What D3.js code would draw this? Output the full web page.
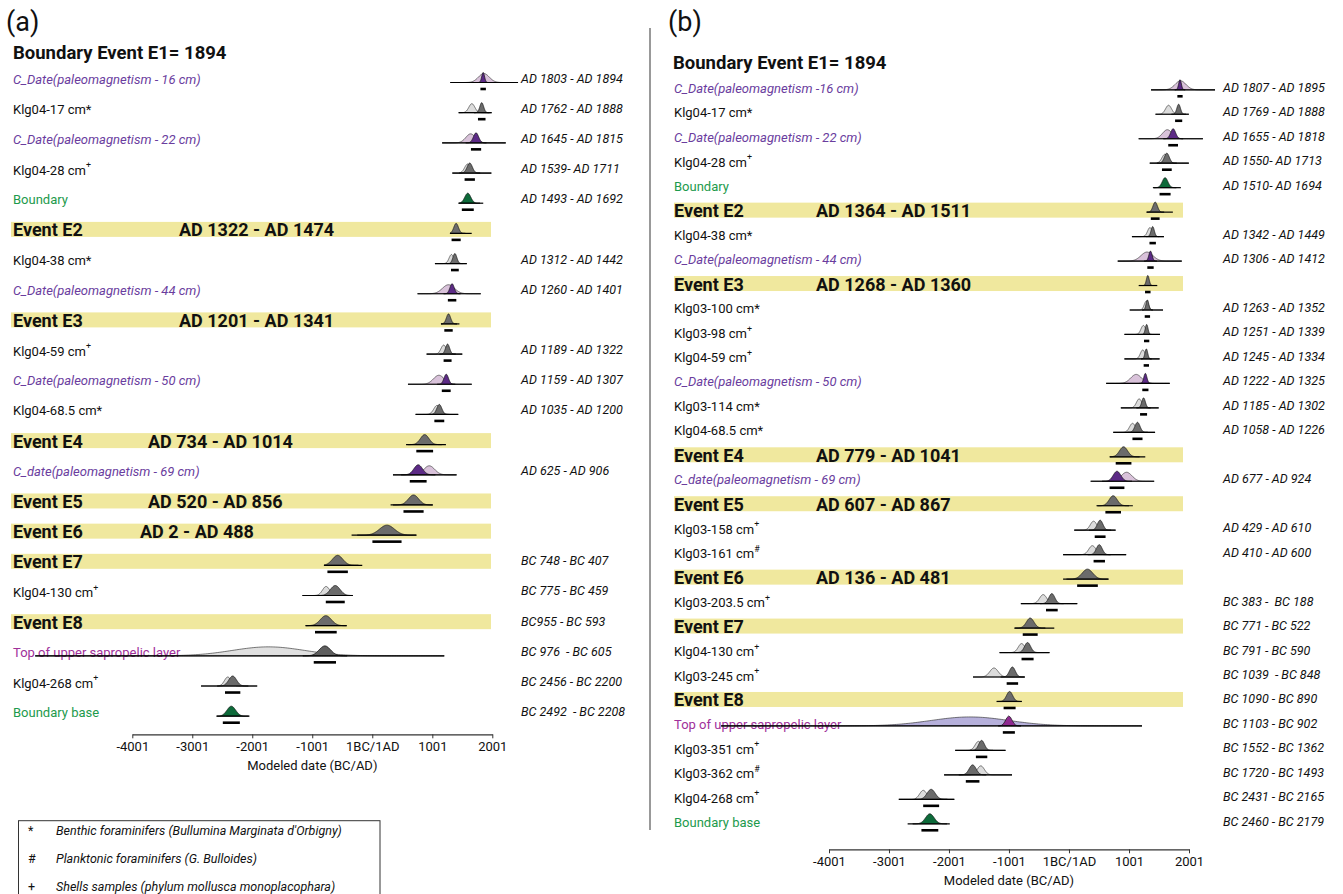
<!DOCTYPE html>
<html><head><meta charset="utf-8">
<script src="https://cdn.jsdelivr.net/npm/d3@7"></script>
<style>
body{margin:0;background:#fff}
svg{display:block}
text{font-family:Roboto,"Noto Sans",sans-serif;white-space:pre}
</style>
</head><body>
<svg id="c" width="1343" height="894"></svg>
<script>
// ---------------- DATA ----------------
const axisTicks = [-4001, -3001, -2001, -1001, 0, 1001, 2001];
const axisTickLabels = ['-4001', '-3001', '-2001', '-1001', '1BC/1AD', '1001', '2001'];
const axisTitle = 'Modeled date (BC/AD)';
const panelLabels = ['(a)', '(b)'];
const headerText = 'Boundary Event E1= 1894';

const labelsA = ['C_Date(paleomagnetism - 16 cm)', 'Klg04-17 cm*', 'C_Date(paleomagnetism - 22 cm)', 'Klg04-28 cm+', 'Boundary',
  'Event E2', 'Klg04-38 cm*', 'C_Date(paleomagnetism - 44 cm)', 'Event E3', 'Klg04-59 cm+', 'C_Date(paleomagnetism - 50 cm)',
  'Klg04-68.5 cm*', 'Event E4', 'C_date(paleomagnetism - 69 cm)', 'Event E5', 'Event E6', 'Event E7', 'Klg04-130 cm+',
  'Event E8', 'Top of upper sapropelic layer', 'Klg04-268 cm+', 'Boundary base'];
const kindsA = ['cdate', 'sample', 'cdate', 'sample', 'boundary', 'event', 'sample', 'cdate', 'event', 'sample', 'cdate',
  'sample', 'event', 'cdate', 'event', 'event', 'event', 'sample', 'event', 'top', 'sample', 'boundary'];
const rangeA = [[1803, 1894], [1762, 1888], [1645, 1815], [1539, 1711], [1493, 1692], [1322, 1474], [1312, 1442], [1260, 1401],
  [1201, 1341], [1189, 1322], [1159, 1307], [1035, 1200], [734, 1014], [625, 906], [520, 856], [2, 488], [-748, -407],
  [-775, -459], [-955, -593], [-976, -605], [-2456, -2200], [-2492, -2208]];
const rightTextA = ['AD 1803 - AD 1894', 'AD 1762 - AD 1888', 'AD 1645 - AD 1815', 'AD 1539- AD 1711', 'AD 1493 - AD 1692', null,
  'AD 1312 - AD 1442', 'AD 1260 - AD 1401', null, 'AD 1189 - AD 1322', 'AD 1159 - AD 1307', 'AD 1035 - AD 1200', null,
  'AD 625 - AD 906', null, null, 'BC 748 - BC 407', 'BC 775 - BC 459', 'BC955 - BC 593', 'BC 976  - BC 605',
  'BC 2456 - BC 2200', 'BC 2492  - BC 2208'];
const bandTextA = [null, null, null, null, null, 'AD 1322 - AD 1474', null, null, 'AD 1201 - AD 1341', null, null, null,
  'AD 734 - AD 1014', null, 'AD 520 - AD 856', 'AD 2 - AD 488', null, null, null, null, null, null];
const priorA = [[1860, 90], [1660, 50], [1640, 80], [1590, 50], null, null, [1320, 40], [1270, 100], null, [1190, 45], [1110, 90],
  [1080, 55], null, [950, 90], null, null, null, [-770, 60], null, [-1730, 600], [-2410, 55], null];
const extentA = [[1300, 2430], [1440, 1990], [1165, 2225], [1335, 1985], [1440, 1850], [1296, 1658], [1045, 1576], [755, 1808],
  [1145, 1453], [906, 1500], [595, 1658], [722, 1433], [563, 1228], [345, 1405], [305, 1008], [-345, 735], [-805, -167],
  [-1165, -325], [-1112, -427], [-5620, 1200], [-2855, -1919], [-2595, -2048]];

const labelsB = ['C_Date(paleomagnetism -16 cm)', 'Klg04-17 cm*', 'C_Date(paleomagnetism - 22 cm)', 'Klg04-28 cm+', 'Boundary',
  'Event E2', 'Klg04-38 cm*', 'C_Date(paleomagnetism - 44 cm)', 'Event E3', 'Klg03-100 cm*', 'Klg03-98 cm+', 'Klg04-59 cm+',
  'C_Date(paleomagnetism - 50 cm)', 'Klg03-114 cm*', 'Klg04-68.5 cm*', 'Event E4', 'C_date(paleomagnetism - 69 cm)', 'Event E5',
  'Klg03-158 cm+', 'Klg03-161 cm#', 'Event E6', 'Klg03-203.5 cm+', 'Event E7', 'Klg04-130 cm+', 'Klg03-245 cm+', 'Event E8',
  'Top of upper sapropelic layer', 'Klg03-351 cm+', 'Klg03-362 cm#', 'Klg04-268 cm+', 'Boundary base'];
const kindsB = ['cdate', 'sample', 'cdate', 'sample', 'boundary', 'event', 'sample', 'cdate', 'event', 'sample', 'sample', 'sample',
  'cdate', 'sample', 'sample', 'event', 'cdate', 'event', 'sample', 'sample', 'event', 'sample', 'event', 'sample', 'sample', 'event',
  'top', 'sample', 'sample', 'sample', 'boundary'];
const rangeB = [[1807, 1895], [1769, 1888], [1655, 1818], [1550, 1713], [1510, 1694], [1364, 1511], [1342, 1449], [1306, 1412],
  [1268, 1360], [1263, 1352], [1251, 1339], [1245, 1334], [1222, 1325], [1185, 1302], [1058, 1226], [779, 1041], [677, 924],
  [607, 867], [429, 610], [410, 600], [136, 481], [-383, -188], [-771, -522], [-791, -590], [-1039, -848], [-1090, -890],
  [-1103, -902], [-1552, -1362], [-1720, -1493], [-2431, -2165], [-2460, -2179]];
const rightTextB = ['AD 1807 - AD 1895', 'AD 1769 - AD 1888', 'AD 1655 - AD 1818', 'AD 1550- AD 1713', 'AD 1510- AD 1694', null,
  'AD 1342 - AD 1449', 'AD 1306 - AD 1412', null, 'AD 1263 - AD 1352', 'AD 1251 - AD 1339', 'AD 1245 - AD 1334',
  'AD 1222 - AD 1325', 'AD 1185 - AD 1302', 'AD 1058 - AD 1226', null, 'AD 677 - AD 924', null, 'AD 429 - AD 610',
  'AD 410 - AD 600', null, 'BC 383 -  BC 188', 'BC 771 - BC 522', 'BC 791 - BC 590', 'BC 1039  - BC 848', 'BC 1090 - BC 890',
  'BC 1103 - BC 902', 'BC 1552 - BC 1362', 'BC 1720 - BC 1493', 'BC 2431 - BC 2165', 'BC 2460 - BC 2179'];
const bandTextB = [null, null, null, null, null, 'AD 1364 - AD 1511', null, null, 'AD 1268 - AD 1360', null, null, null, null,
  null, null, 'AD 779 - AD 1041', null, 'AD 607 - AD 867', null, null, 'AD 136 - AD 481', null, null, null, null, null, null,
  null, null, null, null];
const priorB = [[1860, 90], [1660, 50], [1640, 80], [1600, 50], null, null, [1350, 40], [1300, 100], null, [1290, 35], [1240, 40],
  [1230, 40], [1120, 90], [1170, 45], [1060, 50], null, [960, 90], null, [410, 55], [390, 60], null, [-430, 60], null, [-790, 55],
  [-1250, 70], null, [-1650, 650], [-1510, 55], [-1470, 60], [-2430, 60], null];
const extentB = [[1368, 2435], [1443, 1998], [1162, 2233], [1347, 1998], [1399, 1865], [1295, 1732], [1050, 1583], [813, 1880],
  [1162, 1472], [1013, 1568], [925, 1517], [925, 1510], [620, 1680], [865, 1495], [738, 1435], [680, 1272], [362, 1420],
  [458, 1065], [88, 777], [-98, 953], [-98, 658], [-802, 138], [-912, -245], [-1157, -325], [-1600, -733], [-1208, -787],
  [-5800, 1217], [-1897, -1058], [-2082, -950], [-2837, -1912], [-2690, -1987]];

const legendSymbols = ['*', '#', '+'];
const legendTexts = ["Benthic foraminifers (Bullumina Marginata d'Orbigny)", 'Planktonic foraminifers (G. Bulloides)',
  'Shells samples (phylum mollusca monoplacophara)'];

// ---------------- STYLE / LAYOUT ----------------
const FONT = 'Roboto, "Noto Sans", sans-serif';
const styleA = {
  sample: { text: '#111', prior: '#dcdcdc', post: '#6b6b6b' },
  cdate: { text: '#6a3d9e', italic: true, prior: '#d9c2da', post: '#5c2a86' },
  boundary: { text: '#1d9a4c', post: '#0d6a3a' },
  event: { text: '#111', bold: true, post: '#6b6b6b' },
  top: { text: '#a0309a', prior: '#e0e0e0', post: '#5e5e5e' }
};
const styleB = Object.assign({}, styleA, { top: { text: '#a0309a', prior: '#b6b0db', post: '#8f2a90' } });

const panels = [
  { labels: labelsA, kinds: kindsA, range: rangeA, right: rightTextA, band: bandTextA, prior: priorA, extent: extentA,
    style: styleA, xr: [132.3, 492.3], yr: [79, 712.7], axisY: 734.3, titleY: 770, labelX: 13, rightX: 521,
    bandX: [11, 491], bandTextX: [179, 179, 148, 148, 140], baseOff: 3.5, barOff: 10, tag: [6, 31], header: [13, 59] },
  { labels: labelsB, kinds: kindsB, range: rangeB, right: rightTextB, band: bandTextB, prior: priorB, extent: extentB,
    style: styleB, xr: [829, 1189], yr: [88.3, 822.3], axisY: 849.3, titleY: 885, labelX: 674, rightX: 1223,
    bandX: [674, 1183], bandTextX: [816, 816, 816, 816, 816], baseOff: 1.5, barOff: 8, tag: [668, 31], header: [673, 69] }
];

const svg = d3.select('#c');
const dens = (v, mu, sd) => Math.exp(-0.5 * ((v - mu) / sd) ** 2);

function writeLabel(sel, str) {
  const last = str.slice(-1);
  if (last === '+' || last === '#') {
    sel.append('tspan').text(str.slice(0, -1));
    sel.append('tspan').attr('font-size', '0.68em').attr('dy', '-0.5em').text(last);
  } else sel.text(str);
}

panels.forEach((p, pi) => {
  const g = svg.append('g');
  const x = d3.scaleLinear().domain([axisTicks[0], axisTicks[axisTicks.length - 1]]).range(p.xr);
  const y = d3.scalePoint().domain(d3.range(p.labels.length)).range(p.yr);

  g.append('text').attr('x', p.tag[0]).attr('y', p.tag[1]).attr('font-size', 27).attr('fill', '#111').text(panelLabels[pi]);
  g.append('text').attr('x', p.header[0]).attr('y', p.header[1]).attr('font-size', 18.5).attr('font-weight', 700)
    .attr('fill', '#111').text(headerText);

  // bands
  let ev = 0;
  p.kinds.forEach((k, i) => {
    if (k !== 'event') return;
    g.append('rect').attr('x', p.bandX[0]).attr('width', p.bandX[1] - p.bandX[0])
      .attr('y', y(i) - 8).attr('height', 15).attr('fill', '#f0e89e');
  });

  // labels
  p.labels.forEach((lab, i) => {
    const k = p.kinds[i], st = p.style[k];
    const t = g.append('text').attr('x', p.labelX).attr('y', y(i)).attr('dominant-baseline', 'central')
      .attr('fill', st.text).attr('font-size', k === 'event' ? 18 : 13)
      .attr('font-weight', st.bold ? 700 : 400).attr('font-style', st.italic ? 'italic' : 'normal');
    writeLabel(t, lab);
    if (p.band[i]) {
      g.append('text').attr('x', p.bandTextX[ev]).attr('y', y(i)).attr('dominant-baseline', 'central')
        .attr('font-size', 18).attr('font-weight', 700).attr('fill', '#111').text(p.band[i]);
    }
    if (k === 'event') ev++;
    if (p.right[i]) {
      g.append('text').attr('x', p.rightX).attr('y', y(i) - 1).attr('dominant-baseline', 'central')
        .attr('font-size', 12.5).attr('font-style', 'italic').attr('fill', '#111').text(p.right[i]);
    }
  });

  // distributions
  p.labels.forEach((lab, i) => {
    const k = p.kinds[i], st = p.style[k];
    const base = y(i) + p.baseOff;
    const [e0, e1] = p.extent[i];
    const n = 240;
    const pts = d3.range(n + 1).map(j => e0 + (e1 - e0) * j / n);
    const area = h => d3.area().x(d => x(d[0])).y0(base).y1(d => base - h * d[1]);
    if (p.prior[i]) {
      const [mu, sd] = p.prior[i];
      g.append('path').datum(pts.map(v => [v, dens(v, mu, sd)]))
        .attr('d', area(9)).attr('fill', st.prior).attr('stroke', '#222').attr('stroke-width', 0.6);
    }
    const [lo, hi] = p.range[i];
    const mu = (lo + hi) / 2, sd = (hi - lo) / 3.92;
    const pp = pts.filter(v => Math.abs(v - mu) < 4 * sd);
    g.append('path').datum(pp.map(v => [v, dens(v, mu, sd)]))
      .attr('d', area(10)).attr('fill', st.post).attr('stroke', '#111').attr('stroke-width', 0.7);
    g.append('line').attr('x1', x(e0)).attr('x2', x(e1)).attr('y1', base).attr('y2', base)
      .attr('stroke', '#000').attr('stroke-width', 1.2);
    g.append('line').attr('x1', x(lo)).attr('x2', x(hi)).attr('y1', y(i) + p.barOff).attr('y2', y(i) + p.barOff)
      .attr('stroke', '#000').attr('stroke-width', 2.6);
  });

  // axis
  const ax = g.append('g').attr('transform', `translate(0,${p.axisY})`)
    .call(d3.axisBottom(x).tickValues(axisTicks).tickFormat((d, i) => axisTickLabels[i]).tickSizeInner(4).tickSizeOuter(0));
  ax.select('.domain').attr('stroke', '#333').attr('stroke-width', 1.2);
  ax.selectAll('.tick line').attr('stroke', '#333');
  ax.selectAll('text').attr('font-family', FONT).attr('font-size', 13).attr('fill', '#111');
  g.append('text').attr('x', (p.xr[0] + p.xr[1]) / 2).attr('y', p.titleY).attr('text-anchor', 'middle')
    .attr('font-size', 13).attr('fill', '#111').text(axisTitle);
});

// divider
svg.append('line').attr('x1', 650).attr('x2', 650).attr('y1', 28).attr('y2', 830).attr('stroke', '#555').attr('stroke-width', 1.2);

// legend
const lg = svg.append('g');
lg.append('rect').attr('x', 18.5).attr('y', 820.7).attr('width', 361.5).attr('height', 100)
  .attr('fill', 'none').attr('stroke', '#333').attr('stroke-width', 1);
const ly = d3.scalePoint().domain(d3.range(legendTexts.length)).range([830.7, 886]);
legendTexts.forEach((t, i) => {
  lg.append('text').attr('x', 28).attr('y', ly(i)).attr('dominant-baseline', 'central').attr('font-size', 12.5)
    .attr('fill', '#111').text(legendSymbols[i]);
  lg.append('text').attr('x', 56).attr('y', ly(i)).attr('dominant-baseline', 'central').attr('font-size', 12.5)
    .attr('font-style', 'italic').attr('fill', '#111').text(t);
});
</script>
</body></html>
